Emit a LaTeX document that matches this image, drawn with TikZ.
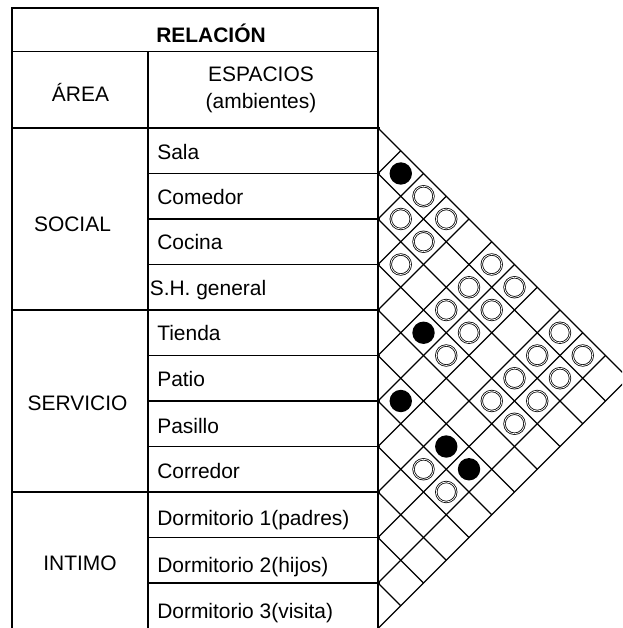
\documentclass[tikz,border=0pt]{standalone}
\usepackage{fontspec}
\setmainfont{Liberation Sans}
\begin{document}
\begin{tikzpicture}[x=0.025cm,y=-0.025cm,
    txt/.style={inner sep=0pt,anchor=base,font=\fontsize{14.9}{18}\selectfont},
    esp/.style={txt,anchor=base west},
    abierto/.style={draw,double,line width=0.55pt,double distance=0.55pt},
    lleno/.style={fill=black}]
  \useasboundingbox (0,0) rectangle (622,628);
  \clip (0,0) rectangle (622,628);
  % tabla
  \draw[line width=0.95pt] (12,640) -- (12,8) -- (378,8) -- (378,640);
  \draw[line width=0.95pt] (12,51.5) -- (378,51.5);
  \draw[line width=0.95pt] (148,51.5) -- (148,640);
  \draw[line width=0.95pt] (12,128) -- (380,128);
  \draw[line width=0.95pt] (12,310) -- (380,310);
  \draw[line width=0.95pt] (12,492) -- (380,492);
  \foreach \k in {1,2,3,5,6,7,9,10}
    \draw[line width=0.95pt] (148,128+45.5*\k) -- (380,128+45.5*\k);
  % matriz de relaciones
  \foreach \k in {0,...,10}
    \draw[line width=0.85pt] (378,128+45.5*\k) -- ++({(11-\k)*22.75},{(11-\k)*22.75});
  \foreach \k in {1,...,11}
    \draw[line width=0.85pt] (378,128+45.5*\k) -- ++({\k*22.75},{-\k*22.75});
  \foreach \i/\j in {0/2,1/2,0/3,1/3,2/3,0/5,1/5,0/6,2/5,1/6,2/6,0/8,3/6,1/8,0/9,2/8,1/9,3/8,2/9,3/9,6/8,6/9}
    \draw[abierto] ({378+(\j-\i)*22.75},{128+(\i+\j+1)*22.75}) circle (10);
  \foreach \i/\j in {0/1,3/5,5/6,5/8,5/9}
    \fill[lleno] ({378+(\j-\i)*22.75},{128+(\i+\j+1)*22.75}) circle (11.2);
  % textos
  \node[txt] (titulo) at (211,43) {\bfseries RELACIÓN};
  \node[txt] (area) at (80.5,102) {ÁREA};
  \node[txt] (espacios) at (261,82) {ESPACIOS};
  \node[txt] (ambientes) at (261,109) {(ambientes)};
  \node[txt] (social) at (72.5,231.5) {SOCIAL};
  \node[txt] (servicio) at (77.5,410) {SERVICIO};
  \node[txt] (intimo) at (80,570) {INTIMO};
  \node[esp] (sala) at (157,160) {Sala};
  \node[esp] (comedor) at (157,205) {Comedor};
  \node[esp] (cocina) at (157,250) {Cocina};
  \node[esp] (sh) at (149.5,295.5) {S.H. general};
  \node[esp] (tienda) at (157,340) {Tienda};
  \node[esp] (patio) at (157,386.5) {Patio};
  \node[esp] (pasillo) at (157,433) {Pasillo};
  \node[esp] (corredor) at (157,478) {Corredor};
  \node[esp] (dorm1) at (157,525.5) {Dormitorio 1(padres)};
  \node[esp] (dorm2) at (157,572) {Dormitorio 2(hijos)};
  \node[esp] (dorm3) at (157,618) {Dormitorio 3(visita)};
\end{tikzpicture}
\end{document}
